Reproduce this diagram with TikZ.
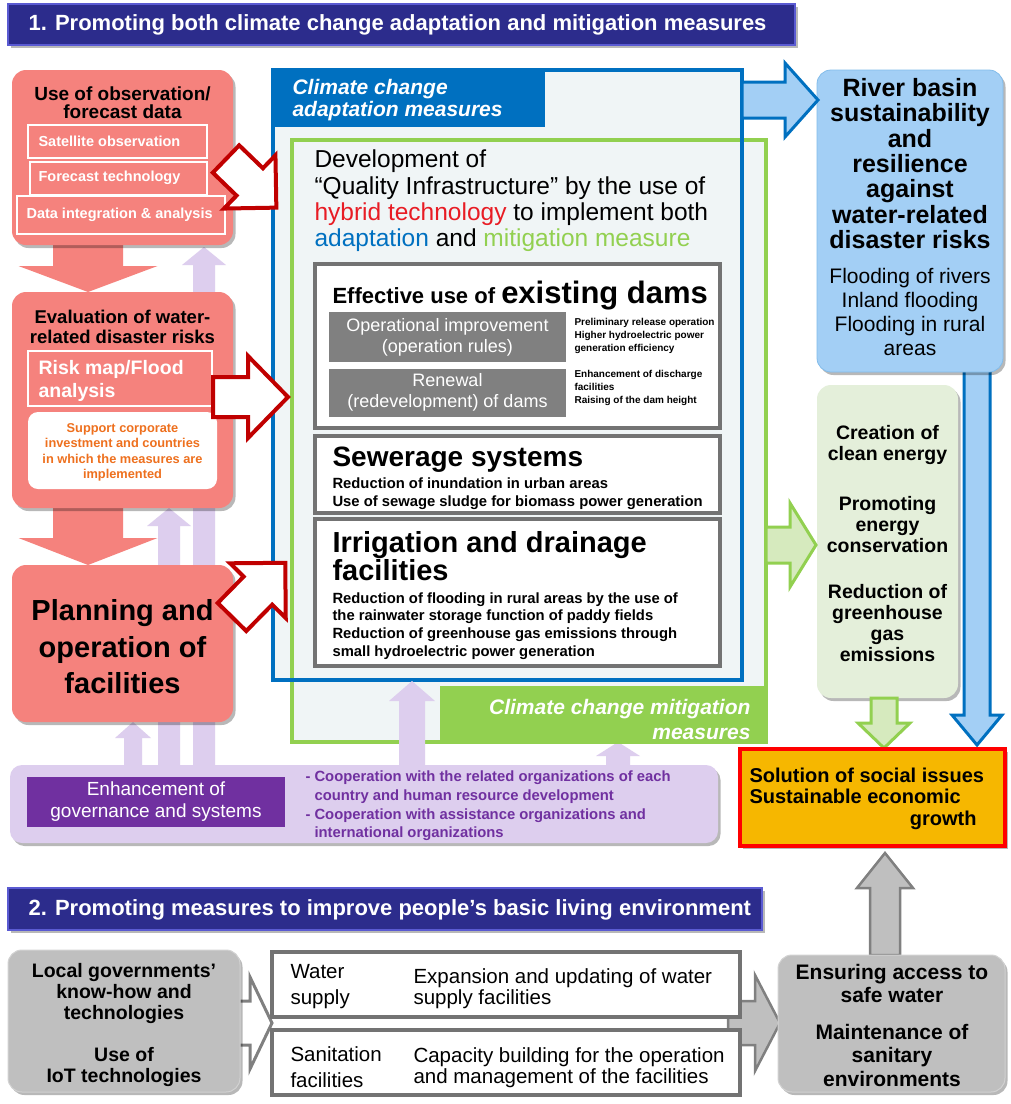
\documentclass[tikz,border=0pt]{standalone}
\usepackage{fontspec}
\setmainfont{Liberation Sans}
\usetikzlibrary{shadows,calc}
\definecolor{salmon}{RGB}{245,130,125}
\definecolor{dred}{RGB}{192,0,0}
\definecolor{ablue}{RGB}{0,112,192}
\definecolor{mgreen}{RGB}{146,208,80}
\definecolor{lblue}{RGB}{163,207,245}
\definecolor{lgreen}{RGB}{228,239,218}
\definecolor{gold}{RGB}{246,183,0}
\definecolor{navy}{RGB}{44,44,140}
\definecolor{navyedge}{RGB}{90,90,210}
\definecolor{lpurple}{RGB}{221,206,238}
\definecolor{dpurple}{RGB}{112,48,160}
\definecolor{midgray}{RGB}{191,191,191}
\definecolor{edgegray}{RGB}{115,115,115}
\definecolor{dgray}{RGB}{128,128,128}
\definecolor{otext}{RGB}{238,112,30}
\definecolor{panel}{RGB}{240,245,246}
\definecolor{lgarrow}{RGB}{214,234,190}
\definecolor{hred}{RGB}{232,28,36}
\newcommand\fs[2]{\fontsize{#1}{#2}\selectfont}
% style, tail, canvas angle, length, shaft width, head width, head length
\newcommand\blockarrow[7]{%
  \begin{scope}[shift={#2},rotate=#3]
  \path[#1] (0,{-(#5)/2}) -- ({#4-#7},{-(#5)/2}) -- ({#4-#7},{-(#6)/2}) -- (#4,0)
    -- ({#4-#7},{(#6)/2}) -- ({#4-#7},{(#5)/2}) -- (0,{(#5)/2}) -- cycle;
  \end{scope}}
\begin{document}
\begin{tikzpicture}[x=1pt,y=-1pt,
 bx/.style={inner sep=0pt,outer sep=0pt},
 shd/.style={drop shadow={shadow xshift=2.5pt,shadow yshift=-3pt,opacity=0.28,fill=black}},
 redarr/.style={fill=white,draw=dred,line width=4pt,line join=miter},
 bluearr/.style={fill=lblue,draw=ablue,line width=3pt,line join=miter},
 grnarr/.style={fill=lgarrow,draw=mgreen,line width=3pt,line join=miter},
 grayarr/.style={fill=midgray,draw=gray,line width=2.5pt,line join=miter},
 whtarr/.style={fill=white,draw=gray,line width=3pt,line join=miter},
 purarr/.style={fill=lpurple},
 salarr/.style={fill=salmon},
 redbox/.style={bx,fill=salmon,rounded corners=14pt,shd},
 wline/.style={bx,draw=white,line width=2pt},
 graybox/.style={bx,fill=white,draw=edgegray,line width=4.5pt},
 darkrect/.style={bx,fill=dgray,text=white,align=center,font=\fs{18}{21}},
 titlebar/.style={bx,fill=navy,draw=navyedge,line width=2pt,shd},
]
\useasboundingbox (0,0) rectangle (1011,1104);
\fill[white] (0,0) rectangle (1011,1104);

% ---------- title 1
\node[titlebar,minimum width=787pt,minimum height=41pt] (title1) at (401.5,24.5) {};
\node[anchor=west,text=white,font=\fs{22}{24}\bfseries] (title1t) at (25,24.5) {1. Promoting both climate change adaptation and mitigation measures};

% ---------- salmon down arrows and purple up arrows (behind boxes)
\coordinate (r1) at (88,240);
\coordinate (r2) at (88,505);
\blockarrow{salarr}{(r1)}{-90}{52}{70}{139}{26}
\blockarrow{salarr}{(r2)}{-90}{60}{70}{139}{27}
\coordinate (p1) at (133,765);
\coordinate (p2) at (169,765);
\coordinate (p3) at (204,765);
\coordinate (p5) at (618,765);
\blockarrow{purarr}{(p1)}{90}{43}{18}{36}{16}
\blockarrow{purarr}{(p2)}{90}{257}{22}{44}{18}
\blockarrow{purarr}{(p3)}{90}{518}{22}{44}{18}
\blockarrow{purarr}{(p5)}{90}{23}{24}{44}{14}

% ---------- left column
\node[redbox,minimum width=221pt,minimum height=175pt] (obs) at (122.5,157.5) {};
\node[align=center,font=\fs{19}{18.5}\bfseries] (obst) at (122.5,102.5) {Use of observation/\\forecast data};
\node[wline,minimum width=179pt,minimum height=33pt] (sat) at (117.5,141.5) {};
\node[wline,minimum width=177pt,minimum height=33pt] (fore) at (118.5,178) {};
\node[wline,minimum width=208pt,minimum height=38pt] (data) at (121,215) {};
\node[anchor=west,text=white,font=\fs{14.5}{17}\bfseries] (satt) at (35,141.5) {Satellite observation};
\node[anchor=west,text=white,font=\fs{14.5}{17}\bfseries] (foret) at (35,178) {Forecast technology};
\node[anchor=west,text=white,font=\fs{14.5}{17}\bfseries] (datat) at (23,215) {Data integration \& analysis};

\node[redbox,minimum width=221pt,minimum height=216pt] (eval) at (122.5,400) {};
\node[align=center,font=\fs{18.5}{20}\bfseries] (evalt) at (122.5,327) {Evaluation of water-\\related disaster risks};
\node[bx,draw=white,line width=2.5pt,minimum width=184pt,minimum height=55pt] (risk) at (120,378.5) {};
\node[anchor=west,align=left,text=white,font=\fs{19.5}{23}\bfseries] (riskt) at (35,380.5) {Risk map/Flood\\analysis};
\node[bx,fill=white,rounded corners=10pt,minimum width=189pt,minimum height=77pt] (supp) at (122.5,450.5) {};
\node[align=center,text=otext,font=\fs{12.8}{15.5}\bfseries] (suppt) at (122.5,452.5) {Support corporate\\investment and countries\\in which the measures are\\implemented};

\node[redbox,minimum width=221pt,minimum height=157pt] (plan) at (122.5,643.5) {};
\node[align=center,font=\fs{29}{36.5}\bfseries] (plant) at (122.5,647) {Planning and\\operation of\\facilities};

% ---------- centre panels
\node[bx,fill=panel,minimum width=474pt,minimum height=602pt] (mitfill) at (529,441) {};
\node[bx,fill=panel,minimum width=469pt,minimum height=610pt] (adfill) at (507.5,375) {};
\node[bx,draw=mgreen,line width=4pt,minimum width=474pt,minimum height=602pt] (mit) at (529,441) {};
\node[bx,fill=mgreen,minimum width=326pt,minimum height=56pt] (mitlab) at (603,714) {};
\node[anchor=east,align=right,text=white,font=\fs{21}{25}\bfseries\itshape] (mitlabt) at (754,719) {Climate change mitigation\\measures};
\node[bx,fill=ablue,minimum width=272pt,minimum height=57pt] (adlab) at (409,98.5) {};
\node[bx,draw=ablue,line width=4.5pt,minimum width=469pt,minimum height=610pt] (adapt) at (507.5,375) {};
\node[anchor=west,align=left,text=white,font=\fs{21}{22}\bfseries\itshape] (adlabt) at (289,100) {Climate change\\adaptation measures};

\node[anchor=base west,font=\fs{24.5}{27}] (dev1) at (311,167) {Development of};
\node[anchor=base west,font=\fs{24.5}{27}] (dev2) at (311,194) {“Quality Infrastructure” by the use of};
\node[anchor=base west,font=\fs{24.5}{27}] (dev3) at (311,220) {\textcolor{hred}{hybrid technology} to implement both};
\node[anchor=base west,font=\fs{24.5}{27}] (dev4) at (311,246) {\textcolor{ablue}{adaptation} and \textcolor{mgreen}{mitigation measure}};

\node[graybox,minimum width=405pt,minimum height=164pt] (dams) at (517.5,346) {};
\node[anchor=base west,font=\bfseries] (damst) at (329,303) {{\fs{22}{24}Effective use of }{\fs{31}{33}existing dams}};
\node[darkrect,minimum width=237pt,minimum height=50pt] (opimp) at (447.5,337) {Operational improvement\\(operation rules)};
\node[darkrect,minimum width=237pt,minimum height=48pt] (renew) at (447.5,392.5) {Renewal\\(redevelopment) of dams};
\node[anchor=west,align=left,font=\fs{10}{13}\bfseries] (opimpt) at (571,336) {Preliminary release operation\\Higher hydroelectric power\\generation efficiency};
\node[anchor=west,align=left,font=\fs{10}{13}\bfseries] (renewt) at (571,387.5) {Enhancement of discharge\\facilities\\Raising of the dam height};

\node[graybox,minimum width=405pt,minimum height=77pt] (sew) at (517.5,474.5) {};
\node[anchor=base west,font=\fs{28}{30}\bfseries] (sewt) at (329,466) {Sewerage systems};
\node[anchor=base west,font=\fs{14.8}{17}\bfseries] (sew1) at (329,488) {Reduction of inundation in urban areas};
\node[anchor=base west,font=\fs{14.8}{17}\bfseries] (sew2) at (329,506) {Use of sewage sludge for biomass power generation};

\node[graybox,minimum width=405pt,minimum height=147pt] (irr) at (517.5,592.5) {};
\node[anchor=base west,font=\fs{29}{30}\bfseries] (irrt1) at (329,552) {Irrigation and drainage};
\node[anchor=base west,font=\fs{29}{30}\bfseries] (irrt2) at (329,580) {facilities};
\node[anchor=base west,font=\fs{14.8}{17}\bfseries] (irr1) at (329,603) {Reduction of flooding in rural areas by the use of};
\node[anchor=base west,font=\fs{14.8}{17}\bfseries] (irr2) at (329,620) {the rainwater storage function of paddy fields};
\node[anchor=base west,font=\fs{14.8}{17}\bfseries] (irr3) at (329,638) {Reduction of greenhouse gas emissions through};
\node[anchor=base west,font=\fs{14.8}{17}\bfseries] (irr4) at (329,656) {small hydroelectric power generation};

% purple arrow over mitigation area
\coordinate (p4) at (412,765);
\blockarrow{purarr}{(p4)}{90}{84}{26}{46}{20}

% ---------- red outline arrows
\coordinate (a1) at (226,159);
\coordinate (a2) at (213,397);
\coordinate (a3) at (232,617);
\blockarrow{redarr}{(a1)}{-44}{70}{38}{74}{37}
\blockarrow{redarr}{(a2)}{0}{75}{40}{82}{40}
\blockarrow{redarr}{(a3)}{45.5}{76}{40}{78}{39}

% ---------- right column
\coordinate (b2) at (977,365);
\blockarrow{bluearr}{(b2)}{-90}{380}{26}{50}{30}
\node[bx,fill=lblue,draw=lblue!80!ablue,line width=0.8pt,rounded corners=14pt,minimum width=186pt,minimum height=302pt,shd] (river) at (910,221) {};
\node[align=center,font=\fs{25}{25.3}\bfseries] (rivert) at (910,163.5) {River basin\\sustainability\\and\\resilience\\against\\water-related\\disaster risks};
\node[align=center,font=\fs{21}{24}] (rivers) at (910,312) {Flooding of rivers\\Inland flooding\\Flooding in rural\\areas};
\coordinate (b1) at (742,100);
\blockarrow{bluearr}{(b1)}{0}{76}{36}{74}{33}

\node[bx,fill=lgreen,rounded corners=14pt,minimum width=141pt,minimum height=313pt,shd] (energy) at (887.5,541.5) {};
\node[align=center,font=\fs{19.5}{21}\bfseries] (en1) at (887.5,444.5) {Creation of\\clean energy};
\node[align=center,font=\fs{19.5}{21}\bfseries] (en2) at (887.5,524.5) {Promoting\\energy\\conservation};
\node[align=center,font=\fs{19.5}{21}\bfseries] (en3) at (887.5,623) {Reduction of\\greenhouse\\gas\\emissions};
\coordinate (g1) at (766,545);
\coordinate (g2) at (884,698);
\blockarrow{grnarr}{(g1)}{0}{50}{36}{84}{26}
\blockarrow{grnarr}{(g2)}{-90}{50}{26}{52}{25}

\node[bx,fill=gold,draw=red,line width=4.5pt,minimum width=265pt,minimum height=97pt,shd] (sol) at (872.5,797.5) {};
\node[anchor=base west,font=\fs{20}{22}\bfseries] (sol1) at (746,782) {Solution of social issues};
\node[anchor=base west,font=\fs{20}{22}\bfseries] (sol2) at (746,803) {Sustainable economic};
\node[anchor=base east,font=\fs{20}{22}\bfseries] (sol3) at (980,825) {growth};

% ---------- governance
\node[bx,fill=lpurple,rounded corners=12pt,minimum width=708pt,minimum height=78pt,shd] (gov) at (364,804) {};
\node[bx,fill=dpurple,text=white,align=center,font=\fs{19}{22},minimum width=258pt,minimum height=50pt] (govl) at (156,802) {Enhancement of\\governance and systems};
\node[anchor=west,align=left,text=dpurple,font=\fs{14.8}{18.7}\bfseries] (govt) at (302,806) {- Cooperation with the related organizations of each\\\phantom{- }country and human resource development\\- Cooperation with assistance organizations and\\\phantom{- }international organizations};

% ---------- title 2
\node[titlebar,minimum width=754pt,minimum height=42pt] (title2) at (385,909) {};
\node[anchor=west,text=white,font=\fs{22}{24}\bfseries] (title2t) at (25,909.5) {2. Promoting measures to improve people’s basic living environment};

% ---------- bottom row
\coordinate (y1) at (885,955);
\blockarrow{grayarr}{(y1)}{90}{102}{30}{56}{35}
\coordinate (w1) at (235,1023);
\coordinate (w2) at (728,1023);
\blockarrow{whtarr}{(w1)}{0}{37}{44}{92}{22}
\blockarrow{grayarr}{(w2)}{0}{52}{44}{96}{25}
\node[bx,fill=midgray,draw=midgray!70!white,line width=1pt,rounded corners=14pt,minimum width=232pt,minimum height=142pt,shd] (local) at (124,1021) {};
\node[align=center,font=\fs{19.5}{21}\bfseries] (localt1) at (124,993) {Local governments’\\know-how and\\technologies};
\node[align=center,font=\fs{19.5}{21}\bfseries] (localt2) at (124,1067) {Use of\\IoT technologies};

\node[graybox,line width=4pt,minimum width=468pt,minimum height=65pt] (water) at (506,984.5) {};
\node[graybox,line width=4pt,minimum width=468pt,minimum height=65pt] (sanit) at (506,1062.5) {};
\node[anchor=west,align=left,font=\fs{20.5}{26}] (watert) at (287,987) {Water\\supply};
\node[anchor=west,align=left,font=\fs{20.5}{21}] (waterd) at (410,988.5) {Expansion and updating of water\\supply facilities};
\node[anchor=west,align=left,font=\fs{20.5}{26}] (sanitt) at (287,1067) {Sanitation\\facilities};
\node[anchor=west,align=left,font=\fs{20.5}{21}] (sanitd) at (410,1067.5) {Capacity building for the operation\\and management of the facilities};

\node[bx,fill=midgray,draw=midgray!70!white,line width=1pt,rounded corners=14pt,minimum width=227pt,minimum height=137pt,shd] (safe) at (891.5,1023.5) {};
\node[align=center,font=\fs{21}{23.5}\bfseries] (safet1) at (892,983.5) {Ensuring access to\\safe water};
\node[align=center,font=\fs{21}{23.5}\bfseries] (safet2) at (892,1055) {Maintenance of\\sanitary\\environments};
\end{tikzpicture}
\end{document}
